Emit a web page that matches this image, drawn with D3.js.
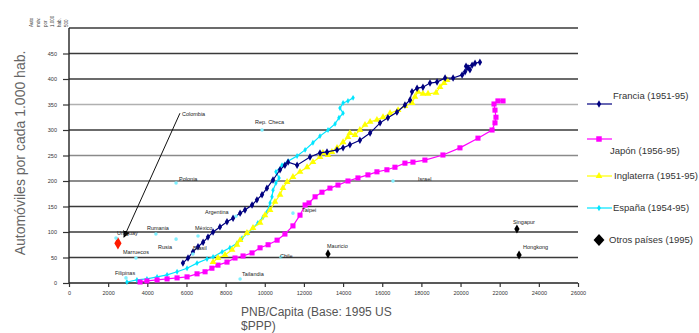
<!DOCTYPE html>
<html><head><meta charset="utf-8">
<script src="https://cdn.jsdelivr.net/npm/d3@7"></script>
<style>body{margin:0;background:#fff}svg{display:block}text{font-family:"Liberation Sans",Arial,sans-serif}</style>
</head><body><svg id="c" width="699" height="333"></svg>
<script>
// ---- data ----
const xTicks = [0,2000,4000,6000,8000,10000,12000,14000,16000,18000,20000,22000,24000,26000];
const yTicks = [0,50,100,150,200,250,300,350,400,450];
const franciaX = [5820,6080,6330,6590,6850,7100,7360,7710,8070,8380,8740,8990,9350,9600,9860,10110,10420,10780,11030,11190,11650,12310,12820,13180,13690,14000,14350,14860,15380,15890,16290,16750,17160,17420,17520,17780,18080,18440,18800,19210,19620,20080,20230,20380,20480,20280,20590,20740,20990];
const franciaY = [39,49,61,71,80,90,100,110,120,127,137,143,153,163,173,186,202,222,231,237,231,247,255,257,261,265,271,280,294,314,324,335,349,359,375,382,384,392,394,402,402,408,414,422,418,425,427,431,433];
const japonX = [3630,3980,4500,5010,5520,6030,6540,6950,7300,7610,8070,8480,8890,9350,9760,10170,10630,11030,11440,11800,12060,12260,12570,12920,13330,13740,14250,14760,15270,15730,16240,16650,17160,17570,18180,19100,19970,20890,21610,21760,21810,21760,21710,21910,22170];
const japonY = [2,4,6,8,10,12,18,22,29,35,41,49,53,59,69,75,84,96,112,133,153,157,169,178,186,192,200,206,212,218,222,227,235,237,241,251,265,284,300,314,325,339,351,357,357];
const inglaterraX = [7360,7610,7970,8330,8580,8740,9090,9400,9760,10010,10270,10520,10780,10930,11140,11440,11800,12160,12460,12820,12970,13230,13430,13690,14000,14250,14350,14610,14860,15120,15380,15730,16040,16400,16810,17160,17520,17670,17830,18080,18340,18750,18950,19160,19310];
const inglaterraY = [41,49,55,65,75,84,98,108,118,133,143,159,173,186,198,208,218,227,237,247,255,251,257,265,276,286,294,290,300,310,316,320,325,333,339,347,353,365,375,371,371,373,384,392,398];
const espanaX = [2960,3470,3980,4500,5010,5520,6030,6540,7050,7360,7820,8220,8580,8840,9140,9400,9650,9910,10110,10270,10370,10420,10570,10730,10570,10880,11190,11650,12060,12460,12820,13230,13590,13790,14000,13840,14000,14250,14510];
const espanaY = [2,6,8,12,16,22,29,39,47,51,61,69,78,88,98,108,118,129,139,157,169,182,196,206,218,231,239,249,261,275,288,300,312,324,333,343,353,357,363];
const otrosNames = ["Colombia","Uruguay","Rumania","Rusia","México","Brasil","Argentina","Polonia","Marruecos","Filipinas","Tailandia","Chile","Mauricio","Taipei","Rep. Checa","Israel","Singapur","Hongkong"];
const otrosX = [2500,2400,4440,5470,6590,6330,8530,5470,3420,2910,8740,10830,13230,11440,9860,16550,22880,22990];
const otrosY = [78,88,96,86,92,57,131,196,49,10,8,51,57,137,300,200,106,55];
const otrosType = ["red","cyan","cyan","cyan","cyan","cyan","cyan","cyan","cyan","cyan","cyan","cyan","black","cyan","cyan","cyan","black","black"];
const legendLabels = ["Francia (1951-95)","Japón (1956-95)","Inglaterra (1951-95)","España (1954-95)","Otros países  (1995)"];

// ---- layout / style ----
const labelOff = {"Colombia":[64,-127],"Uruguay":[1,-3],"Rumania":[-9,-4],"Rusia":[-18,10],"México":[-3,-6],"Brasil":[0,-4],"Argentina":[-31,-2],"Polonia":[3,-2],"Marruecos":[-13,-4],"Filipinas":[-11,-3],"Tailandia":[2,-3],"Chile":[-1,1],"Mauricio":[-1,-6],"Taipei":[9,-1],"Rep. Checa":[-7,-6],"Israel":[25,0],"Singapur":[-4,-5],"Hongkong":[4,-6]};
const svg = d3.select("#c");
const x = d3.scaleLinear().domain([0,26000]).range([69,578]);
const y = d3.scaleLinear().domain([0,500]).range([283,28]);

// gridlines
const gridVals = [50,100,150,200,250,300,350,400,450,500];
const gridCol = {350:"#b0b0b0",250:"#8a8a8a",200:"#666"};
svg.append("g").selectAll("line").data(gridVals).join("line")
  .attr("x1",69).attr("x2",578).attr("y1",d=>y(d)).attr("y2",d=>y(d))
  .attr("stroke",d=>gridCol[d]||"#3a3a3a").attr("stroke-width",1.6);

// axes
const yAxis = d3.axisLeft(y).tickValues(yTicks).tickSize(6).tickPadding(6);
const gy = svg.append("g").attr("transform","translate(69,0)").call(yAxis);
gy.select(".domain").attr("stroke","#222").attr("stroke-width",1.4).attr("d","M0,28V283");
gy.selectAll(".tick line").attr("stroke","#333").attr("stroke-width",1.2);
gy.selectAll(".tick text").attr("font-size",5.5).attr("fill","#333").attr("font-family","Liberation Sans, Arial");

const xAxis = d3.axisBottom(x).tickValues(xTicks).tickSize(4).tickPadding(4).tickFormat(d3.format("d"));
const gx = svg.append("g").attr("transform","translate(0,283)").call(xAxis);
gx.select(".domain").attr("stroke","#222").attr("stroke-width",1.6).attr("d","M69,0H578");
gx.selectAll(".tick line").attr("stroke","#333").attr("stroke-width",1.2);
gx.selectAll(".tick text").attr("font-size",5.5).attr("fill","#333").attr("font-family","Liberation Sans, Arial");

// tiny rotated unit text at top of y axis
const topBits = ["Auto","móv.","por","1.000","hab.","500"];
svg.append("g").selectAll("text").data(topBits).join("text")
  .attr("transform",(d,i)=>`translate(${33+i*7},27) rotate(-90)`)
  .attr("font-size",4.5).attr("fill","#333").text(d=>d);

// axis titles
svg.append("text").attr("transform","translate(25,153) rotate(-90)").attr("text-anchor","middle")
  .attr("font-size",14).attr("fill","#666").text("Automóviles por cada 1.000 hab.");
svg.append("text").attr("x",241).attr("y",316).attr("font-size",12).attr("fill","#555").text("PNB/Capita (Base: 1995 US");
svg.append("text").attr("x",241).attr("y",330).attr("font-size",12).attr("fill","#555").text("$PPP)");

// series
const line = d3.line().x(d=>x(d[0])).y(d=>y(d[1]));
const series = [
  {xs:espanaX, ys:espanaY, color:"#00e5ff", sym:d3.symbolDiamond, size:10},
  {xs:japonX, ys:japonY, color:"#ff00ff", sym:d3.symbolSquare, size:26},
  {xs:inglaterraX, ys:inglaterraY, color:"#ffff00", sym:d3.symbolTriangle, size:20},
  {xs:franciaX, ys:franciaY, color:"#000080", sym:d3.symbolDiamond, size:16}
];
series.forEach(s=>{
  const pts = s.xs.map((v,i)=>[v,s.ys[i]]);
  svg.append("path").datum(pts).attr("d",line).attr("fill","none").attr("stroke",s.color).attr("stroke-width",1.2);
  svg.append("g").selectAll("path").data(pts).join("path")
    .attr("transform",d=>`translate(${x(d[0])},${y(d[1])})`)
    .attr("d",d3.symbol(s.sym,s.size)).attr("fill",s.color);
});

// other countries
const otros = otrosNames.map((n,i)=>({n, gx:otrosX[i], gy:otrosY[i], t:otrosType[i]}));
svg.append("defs").append("marker").attr("id","ah").attr("viewBox","0 0 10 10").attr("refX",9).attr("refY",5)
  .attr("markerWidth",7).attr("markerHeight",7).attr("orient","auto")
  .append("path").attr("d","M0,0L10,5L0,10z").attr("fill","#000");
const col = otros[0];
svg.append("line").attr("x1",x(col.gx)+labelOff[col.n][0]-2).attr("y1",y(col.gy)+labelOff[col.n][1]-3)
  .attr("x2",x(col.gx)+6).attr("y2",y(col.gy)-6).attr("stroke","#111").attr("stroke-width",1)
  .attr("marker-end","url(#ah)");
const colorMap = {red:"#ff1a00",cyan:"#80f0ff",black:"#000"};
svg.append("g").selectAll("path").data(otros).join("path")
  .attr("transform",d=>`translate(${x(d.gx)},${y(d.gy)})`)
  .attr("d",d=>d3.symbol(d.t==="cyan"?d3.symbolCircle:d3.symbolDiamond, d.t==="red"?45:(d.t==="black"?24:10))())
  .attr("fill",d=>colorMap[d.t]);
svg.append("g").selectAll("text").data(otros).join("text")
  .attr("x",d=>x(d.gx)+labelOff[d.n][0]).attr("y",d=>y(d.gy)+labelOff[d.n][1])
  .attr("font-size",5.5).attr("fill","#222").text(d=>d.n);

// legend
const legColors = ["#000080","#ff00ff","#ffff00","#00e5ff","#000"];
const legSyms = [d3.symbolDiamond,d3.symbolSquare,d3.symbolTriangle,d3.symbolDiamond,d3.symbolDiamond];
const legSizes = [16,30,20,12,40];
const legLineY = [104,139,176,208,240];
const legTextPos = [[613,99],[610,154],[614,179],[613,211],[609,243]];
const lg = svg.append("g");
legendLabels.forEach((lab,i)=>{
  if(i<4) lg.append("line").attr("x1",587).attr("x2",612).attr("y1",legLineY[i]).attr("y2",legLineY[i]).attr("stroke",legColors[i]).attr("stroke-width",1.2);
  lg.append("path").attr("transform",`translate(599,${legLineY[i]}) ${i===4?"scale(1.6,1)":""}`)
    .attr("d",d3.symbol(legSyms[i],legSizes[i])).attr("fill",legColors[i]);
  lg.append("text").attr("x",legTextPos[i][0]).attr("y",legTextPos[i][1]).attr("font-size",9.5).attr("fill","#333").text(lab);
});
</script></body></html>
